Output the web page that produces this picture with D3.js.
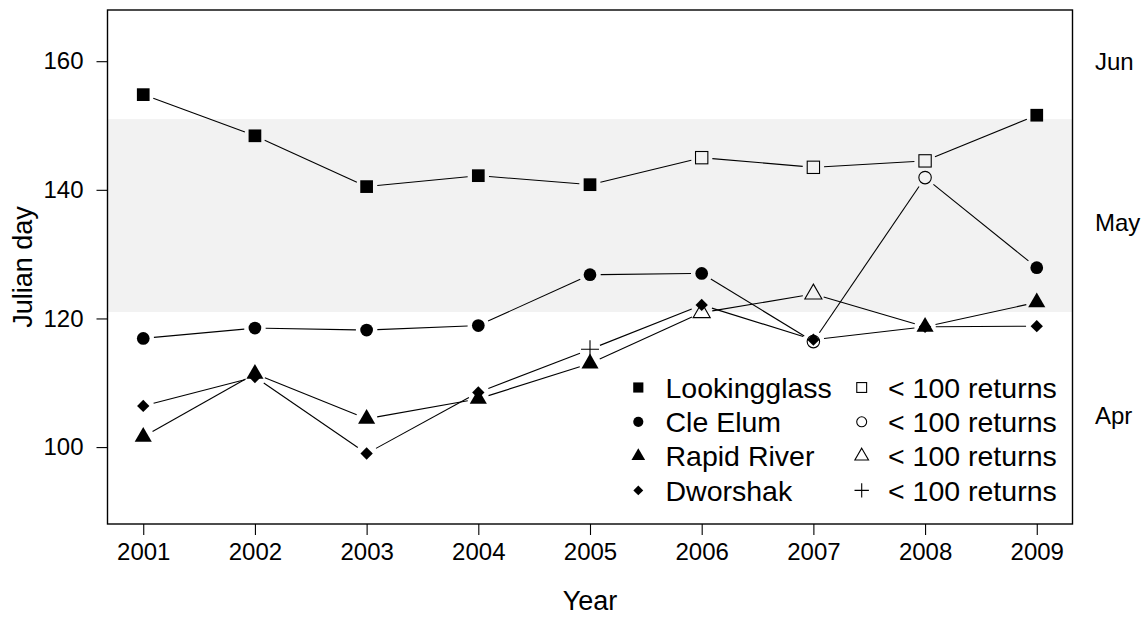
<!DOCTYPE html>
<html>
<head>
<meta charset="utf-8">
<script src="https://cdn.jsdelivr.net/npm/d3@7"></script>
<style>
  html, body { margin: 0; padding: 0; background: #fff; }
  svg { display: block; }
  text { font-family: "Liberation Sans", Arial, Helvetica, sans-serif; fill: #000; }
</style>
</head>
<body>
<svg id="chart" width="1146" height="617"></svg>
<script>
// ---- data ----
const years = [2001, 2002, 2003, 2004, 2005, 2006, 2007, 2008, 2009];
const lookingglass = [154.8, 148.4, 140.5, 142.2, 140.8, 145.0, 143.5, 144.5, 151.6];
const lookingglassLow = [false, false, false, false, false, true, true, true, false];
const cleElum = [116.9, 118.5, 118.2, 118.9, 126.8, 127.0, 116.4, 141.9, 127.9];
const cleElumLow = [false, false, false, false, false, false, true, true, false];
const rapidRiver = [101.6, 111.4, 104.4, 107.5, 113.0, 120.9, 123.8, 118.7, 122.5];
const rapidRiverLow = [false, false, false, false, false, true, true, false, false];
const dworshak = [106.4, 110.9, 99.0, 108.5, 115.2, 122.1, 116.7, 118.7, 118.8];
const dworshakLow = [false, false, false, false, true, false, false, false, false];

const seriesNames = ["Lookingglass", "Cle Elum", "Rapid River", "Dworshak"];
const lowLabel = "< 100 returns";
const yTicks = [100, 120, 140, 160];
const mayBand = [121, 151];
const monthLabels = ["Apr", "May", "Jun"];
const monthLabelDays = [105, 135, 160];
const xTitle = "Year";
const yTitle = "Julian day";

// ---- layout ----
const svg = d3.select("#chart");
const L = 107.5, R = 1072.5, T = 10, B = 524;
const x = d3.scaleLinear().domain([2000.68, 2009.32]).range([L, R]);
const y = d3.scaleLinear().domain([88.04, 167.96]).range([B, T]);

// band
svg.append("rect")
  .attr("x", L).attr("width", R - L)
  .attr("y", y(mayBand[1])).attr("height", y(mayBand[0]) - y(mayBand[1]))
  .attr("fill", "#f2f2f2");

// symbol drawing
const RAD = 6.35;
function drawSymbol(g, type, filled, cx, cy, s) {
  s = s || 1;
  const r = RAD * s;
  const fill = filled ? "#000" : "none";
  const stroke = "#000";
  const sw = filled ? 0 : 1.1;
  if (type === "square") {
    const h = filled ? r : r * 0.97;
    g.append("rect").attr("x", cx - h).attr("y", cy - h).attr("width", 2 * h).attr("height", 2 * h)
      .attr("fill", fill).attr("stroke", filled ? "none" : stroke).attr("stroke-width", sw);
  } else if (type === "circle") {
    g.append("circle").attr("cx", cx).attr("cy", cy).attr("r", filled ? r : r * 0.98)
      .attr("fill", fill).attr("stroke", filled ? "none" : stroke).attr("stroke-width", sw);
  } else if (type === "triangle") {
    const top = 1.5551 * r, bot = 0.7776 * r, hw = 1.3468 * r;
    g.append("path").attr("d", `M${cx},${cy - top}L${cx + hw},${cy + bot}L${cx - hw},${cy + bot}Z`)
      .attr("fill", fill).attr("stroke", filled ? "none" : stroke).attr("stroke-width", sw);
  } else if (type === "diamond") {
    const d = 0.97 * r;
    g.append("path").attr("d", `M${cx},${cy - d}L${cx + d},${cy}L${cx},${cy + d}L${cx - d},${cy}Z`)
      .attr("fill", "#000");
  } else if (type === "plus") {
    const d = 1.414 * r;
    g.append("path").attr("d", `M${cx - d},${cy}L${cx + d},${cy}M${cx},${cy - d}L${cx},${cy + d}`)
      .attr("fill", "none").attr("stroke", stroke).attr("stroke-width", 1.1);
  }
}

const series = [
  { name: seriesNames[0], vals: lookingglass, low: lookingglassLow, sym: "square", lowSym: "square" },
  { name: seriesNames[1], vals: cleElum, low: cleElumLow, sym: "circle", lowSym: "circle" },
  { name: seriesNames[2], vals: rapidRiver, low: rapidRiverLow, sym: "triangle", lowSym: "triangle" },
  { name: seriesNames[3], vals: dworshak, low: dworshakLow, sym: "diamond", lowSym: "plus" }
];

// lines with gaps (type = "b")
const GAP = 10.7;
const gLines = svg.append("g");
series.forEach(s => {
  for (let i = 0; i < years.length - 1; i++) {
    const x0 = x(years[i]), y0 = y(s.vals[i]), x1 = x(years[i + 1]), y1 = y(s.vals[i + 1]);
    const dx = x1 - x0, dy = y1 - y0, d = Math.hypot(dx, dy);
    if (d <= 2 * GAP) continue;
    const ux = dx / d, uy = dy / d;
    gLines.append("line")
      .attr("x1", x0 + ux * GAP).attr("y1", y0 + uy * GAP)
      .attr("x2", x1 - ux * GAP).attr("y2", y1 - uy * GAP)
      .attr("stroke", "#000").attr("stroke-width", 1.1);
  }
});

// points
series.forEach(s => {
  const g = svg.append("g");
  years.forEach((yr, i) => {
    if (s.low[i]) drawSymbol(g, s.lowSym, s.lowSym === "plus", x(yr), y(s.vals[i]));
    else drawSymbol(g, s.sym, true, x(yr), y(s.vals[i]));
  });
});

// box
svg.append("rect").attr("x", L).attr("y", T).attr("width", R - L).attr("height", B - T)
  .attr("fill", "none").attr("stroke", "#000").attr("stroke-width", 1.4);

// x axis
const xAxis = d3.axisBottom(x).tickValues(years).tickFormat(d3.format("d")).tickSize(11).tickPadding(8);
const gx = svg.append("g").attr("transform", `translate(0,${B})`).call(xAxis);
gx.select(".domain").remove();
gx.selectAll(".tick line").attr("stroke", "#000").attr("stroke-width", 1.1);
gx.selectAll(".tick text").attr("font-size", 24).attr("font-family", "Liberation Sans, Arial, sans-serif").attr("fill", "#000");

// y axis
const yAxis = d3.axisLeft(y).tickValues(yTicks).tickSize(11).tickPadding(13);
const gy = svg.append("g").attr("transform", `translate(${L},0)`).call(yAxis);
gy.select(".domain").remove();
gy.selectAll(".tick line").attr("stroke", "#000").attr("stroke-width", 1.1);
gy.selectAll(".tick text").attr("font-size", 24).attr("font-family", "Liberation Sans, Arial, sans-serif").attr("fill", "#000");

// titles
svg.append("text").attr("x", (L + R) / 2).attr("y", 610).attr("text-anchor", "middle")
  .attr("font-size", 27).text(xTitle);
svg.append("text").attr("transform", `translate(32,${(T + B) / 2}) rotate(-90)`).attr("text-anchor", "middle")
  .attr("font-size", 27).text(yTitle);

// month labels on right
monthLabels.forEach((m, i) => {
  svg.append("text").attr("x", 1095).attr("y", y(monthLabelDays[i])).attr("dy", "0.36em")
    .attr("font-size", 24).text(m);
});

// legend
const legRows = [387.5, 421.8, 456.1, 490.4];
const lg = svg.append("g");
series.forEach((s, i) => {
  const cy = legRows[i];
  drawSymbol(lg, s.sym, true, 638.3, cy, 0.8);
  lg.append("text").attr("x", 665.5).attr("y", cy).attr("dy", "0.36em").attr("font-size", 28.5).text(s.name);
  drawSymbol(lg, s.lowSym, s.lowSym === "plus", 861.7, cy, 0.8);
  lg.append("text").attr("x", 888).attr("y", cy).attr("dy", "0.36em").attr("font-size", 28.5).text(lowLabel);
});
</script>
</body>
</html>
